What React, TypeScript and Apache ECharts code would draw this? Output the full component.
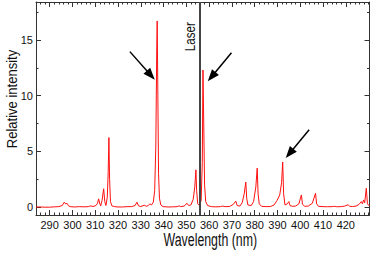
import React, { useEffect, useRef } from "react";
import * as echarts from "echarts";

// Spectrum (wavelength in nm, relative intensity)
const wavelengths = [
  284, 286, 288, 290, 292, 294, 295.5, 296.4, 297, 297.6, 298.3, 299, 301, 303, 305, 307, 308.1, 309,
  310.3, 311, 311.5, 312, 312.4, 313, 313.7, 314.2, 314.7, 315.3, 315.7, 316, 316.3, 316.7, 317.3, 318.5,
  320, 322, 324, 326, 327.5, 328.3, 329, 330, 331.5, 332.5, 333.3, 334, 334.7, 335.5, 336.1, 336.6, 337.0,
  337.2, 337.5, 337.8, 338.2, 338.8, 339.8, 342, 344, 346, 346.8, 347.5, 349, 350.3, 351, 352, 353, 353.7,
  354.2, 354.5, 355, 355.8, 356.5, 357, 357.3, 357.6, 358, 358.5, 359.3, 361, 363, 365, 365.9, 367, 369,
  370.6, 371.7, 372.3, 373.5, 374.5, 375.4, 376.1, 376.5, 377, 378.5, 379.5, 380.5, 381.1, 381.5, 382, 383,
  385, 387, 388.5, 389.8, 391, 391.8, 392.3, 392.7, 393.3, 394.3, 395, 395.5, 396.5, 398, 399.4, 400.5, 401,
  402, 403.5, 405.3, 406.7, 407.2, 408, 410, 412, 414, 415, 416, 418, 419.5, 421, 421.7, 423, 424.5, 425.8,
  426.8, 427.3, 427.8, 428.3, 429, 429.5, 430.4,
];
const intensity = [
  0.02, 0.02, 0.0, 0.0, 0.03, 0.05, 0.15, 0.45, 0.3, 0.35, 0.12, 0.05, 0.02, 0.05, 0.03, 0.05, 0.12, 0.06,
  0.15, 0.35, 0.75, 0.3, 0.12, 0.6, 1.65, 0.5, 0.15, 0.9, 3.2, 6.25, 2.5, 0.5, 0.12, 0.05,
  0.02, 0.02, 0.05, 0.05, 0.15, 0.45, 0.12, 0.06, 0.18, 0.08, 0.15, 0.3, 0.2, 0.45, 1.5, 5.5, 14,
  16.7, 10, 3, 0.8, 0.2, 0.05, 0.02, 0.03, 0.05, 0.12, 0.05, 0.1, 0.35, 0.15, 0.2, 0.7, 1.8,
  3.35, 1.5, 0.3, 0.15, 0.6, 4, 12.3, 8, 2, 0.5, 0.15, 0.05, 0.03, 0.05, 0.1, 0.05, 0.06,
  0.25, 0.55, 0.15, 0.1, 0.4, 1.2, 2.25, 0.8, 0.2, 0.15, 0.5, 1.8, 3.5, 1.2, 0.3, 0.08,
  0.05, 0.06, 0.2, 0.6, 1.1, 2.2, 4.05, 1.2, 0.2, 0.3, 0.5, 0.15, 0.08, 0.1, 0.3, 1.1, 0.25,
  0.08, 0.1, 0.35, 1.25, 0.3, 0.08, 0.05, 0.04, 0.05, 0.08, 0.04, 0.05, 0.1, 0.22, 0.08, 0.06, 0.1, 0.25,
  0.5, 0.3, 0.65, 0.4, 1.7, 0.3, 0.1,
];

const xTickLabels = [290, 300, 310, 320, 330, 340, 350, 360, 370, 380, 390, 400, 410, 420];
const yTickLabels = [0, 5, 10, 15];
const xRange = [284, 430.4];
const yRange = [-0.7, 18.4];
const laserWavelength = 356;
// arrows: [tail, head] in data units
const arrows = [
  [[325.2, 13.95], [334.4, 11.84]],
  [[369.8, 13.84], [361.1, 11.7]],
  [[403.9, 6.95], [395.3, 4.82]],
];
const xTitle = "Wavelength (nm)";
const yTitle = "Relative intensity";
const laserText = "Laser";

const axisColor = "#333";
const font = "'Liberation Sans', Arial, sans-serif";

function minorValues(start: number, end: number, step: number) {
  const out: number[] = [];
  for (let v = start; v <= end + 1e-9; v += step) out.push(+v.toFixed(3));
  return out;
}

export default function App() {
  const ref = useRef<HTMLDivElement>(null);
  useEffect(() => {
    document.body.style.margin = "0";
    if (!ref.current) return;
    const chart = echarts.init(ref.current, undefined, { renderer: "svg" });
    const xMinor = minorValues(286, 430, 2);
    const yMinor = [2.5, 7.5, 12.5, 17.5];
    const baseX = (pos: string, ticks: number[], len: number, labels: boolean, line: boolean) => ({
      type: "value",
      position: pos,
      min: xRange[0],
      max: xRange[1],
      splitLine: { show: false },
      axisLine: { show: line, onZero: false, lineStyle: { color: axisColor, width: 1 } },
      axisTick: { show: true, inside: true, length: len, customValues: ticks, lineStyle: { color: axisColor, width: 1 } },
      axisLabel: labels
        ? { show: true, customValues: xTickLabels, margin: 4, fontSize: 11, color: "#111", fontFamily: font }
        : { show: false },
    });
    const baseY = (pos: string, ticks: number[], len: number, labels: boolean, line: boolean) => ({
      type: "value",
      position: pos,
      min: yRange[0],
      max: yRange[1],
      splitLine: { show: false },
      axisLine: { show: line, onZero: false, lineStyle: { color: axisColor, width: 1 } },
      axisTick: { show: true, inside: true, length: len, customValues: ticks, lineStyle: { color: axisColor, width: 1 } },
      axisLabel: labels
        ? { show: true, customValues: yTickLabels, margin: 3, fontSize: 11, color: "#111", fontFamily: font }
        : { show: false },
    });

    const arrowLines = arrows.map(([tail, head]) => [
      { coord: tail, symbol: "none", lineStyle: { color: "#000", width: 1.5, type: "solid" } },
      { coord: head, symbol: "triangle", symbolSize: [9, 12] },
    ]);

    chart.setOption({
      animation: false,
      grid: { left: 36, right: 1.5, top: 2, bottom: 38, containLabel: false, outerBoundsMode: "none" },
      xAxis: [
        baseX("bottom", xTickLabels, 5, true, true),
        baseX("bottom", xMinor, 2.5, false, false),
        baseX("top", xTickLabels, 5, false, true),
        baseX("top", xMinor, 2.5, false, false),
      ],
      yAxis: [
        baseY("left", yTickLabels, 5, true, true),
        baseY("left", yMinor, 2.5, false, false),
        baseY("right", yTickLabels, 5, false, true),
        baseY("right", yMinor, 2.5, false, false),
      ],
      series: [
        {
          type: "line",
          xAxisIndex: 0,
          yAxisIndex: 0,
          data: wavelengths.map((w, i) => [w, intensity[i]]),
          showSymbol: false,
          symbol: "none",
          lineStyle: { color: "#ff1010", width: 1 },
          itemStyle: { color: "#ff1010" },
          markLine: {
            silent: true,
            animation: false,
            symbol: ["none", "none"],
            label: { show: false },
            data: [
              { xAxis: laserWavelength, lineStyle: { color: "#444", width: 2, type: "solid" } },
              ...arrowLines,
            ],
            itemStyle: { color: "#000" },
          },
        },
      ],
      graphic: [
        {
          type: "text",
          x: 210.3,
          y: 238.5,
          scaleX: 0.65,
          style: {
            text: xTitle,
            fontSize: 19,
            fontFamily: font,
            fill: "#111",
            align: "center",
            verticalAlign: "middle",
            textAlign: "center",
            textVerticalAlign: "middle",
          },
        },
        {
          type: "text",
          x: 12.5,
          y: 99,
          rotation: Math.PI / 2,
          scaleX: 0.93,
          style: {
            text: yTitle,
            fontSize: 14,
            fontFamily: font,
            fill: "#111",
            align: "center",
            verticalAlign: "middle",
            textAlign: "center",
            textVerticalAlign: "middle",
          },
        },
        {
          type: "text",
          x: 190,
          y: 36.7,
          rotation: Math.PI / 2,
          scaleX: 0.77,
          style: {
            text: laserText,
            fontSize: 15,
            fontFamily: font,
            fill: "#111",
            align: "center",
            verticalAlign: "middle",
            textAlign: "center",
            textVerticalAlign: "middle",
          },
        },
      ],
    });
    return () => chart.dispose();
  }, []);
  return <div ref={ref} style={{ width: 371, height: 253 }} />;
}
